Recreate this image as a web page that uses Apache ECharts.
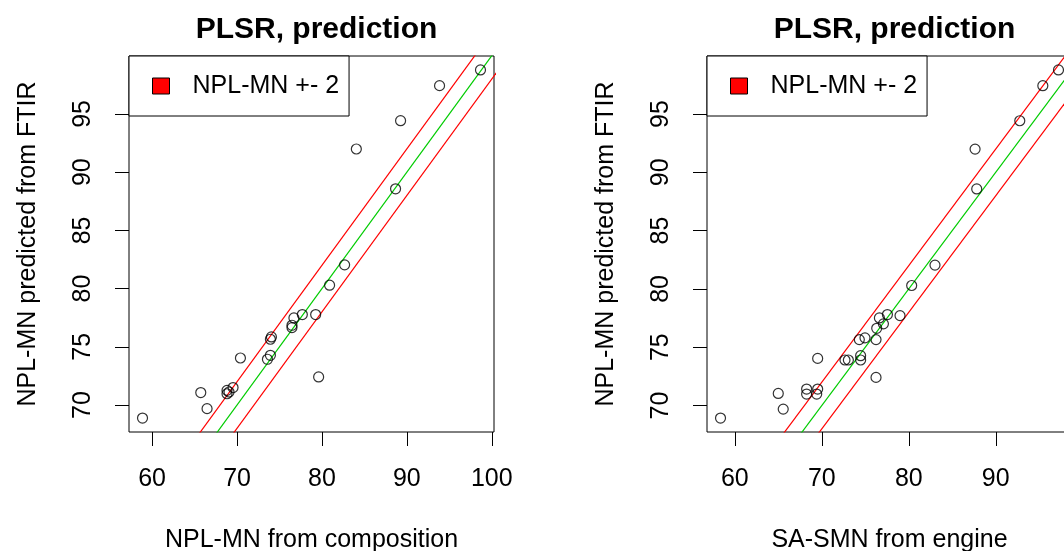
<!DOCTYPE html>
<html>
<head>
<meta charset="utf-8">
<script src="https://cdn.jsdelivr.net/npm/echarts@6/dist/echarts.min.js"></script>
<style>
  html, body { margin: 0; padding: 0; background: #fff; }
  #chart { width: 1064px; height: 551px; }
</style>
</head>
<body>
<div id="chart"></div>
<script>
// left panel: composition vs FTIR prediction
const compX = [98.67, 93.85, 89.26, 84.05, 88.67, 82.67, 80.9, 79.26, 77.69, 76.7, 76.47, 76.47, 74.05, 73.93, 73.93, 73.58, 70.4, 65.73, 66.47, 58.87, 69.53, 68.82, 68.82, 69.06, 79.61];
const compY = [98.78, 97.43, 94.42, 91.99, 88.57, 82.04, 80.29, 77.77, 77.77, 77.48, 76.85, 76.65, 75.85, 75.65, 74.27, 73.93, 74.04, 71.07, 69.69, 68.88, 71.5, 71.26, 70.97, 71.12, 72.41];
// right panel: engine vs FTIR prediction
const engX = [97.21, 95.41, 92.76, 87.62, 87.81, 83.01, 80.33, 78.99, 77.54, 76.62, 77.08, 76.31, 74.96, 74.31, 76.23, 74.46, 74.46, 72.66, 73.05, 69.52, 76.23, 64.99, 65.56, 58.35, 68.25, 68.25, 69.52, 69.41];
const engY = [98.78, 97.43, 94.42, 91.99, 88.57, 82.04, 80.29, 77.71, 77.8, 77.51, 77.0, 76.62, 75.8, 75.65, 75.65, 74.27, 73.9, 73.9, 73.9, 74.04, 72.41, 71.03, 69.69, 68.92, 71.41, 70.98, 71.41, 70.98];

const xTicks = [60, 70, 80, 90, 100];
const yTicks = [70, 75, 80, 85, 90, 95];
const band = 2;
const lineEnds = [40, 120];

const titles = ['PLSR, prediction', 'PLSR, prediction'];
const xNames = ['NPL-MN from composition', 'SA-SMN from engine'];
const yName = 'NPL-MN predicted from FTIR';
const bandName = 'NPL-MN +- 2';

const FONT = '"Liberation Sans", Arial, sans-serif';

// R style axis range: data range plus 4% each side
function rng(a) {
  const lo = Math.min(...a), hi = Math.max(...a);
  const r = hi - lo;
  return [lo - 0.04 * r, hi + 0.04 * r];
}
const pts = (xs, ys) => xs.map((v, i) => [v, ys[i]]);
const refLine = (off) => lineEnds.map(v => [v, v + off]);

const grids = [
  { left: 129, top: 56, width: 365, height: 376 },
  { left: 707, top: 56, width: 365, height: 376 }
];
const panels = [[compX, compY], [engX, engY]];

const xAxes = [], yAxes = [], series = [], titleArr = [], legends = [];
panels.forEach((p, i) => {
  const xr = rng(p[0]), yr = rng(p[1]);
  const g = grids[i];
  xAxes.push({
    type: 'value', gridIndex: i, min: xr[0], max: xr[1],
    name: xNames[i], nameLocation: 'middle', nameGap: 96,
    nameTextStyle: { fontFamily: FONT, fontSize: 25, color: '#000' },
    axisLine: { show: false },
    axisTick: { show: true, length: 14, customValues: xTicks, lineStyle: { color: '#000' } },
    axisLabel: { customValues: xTicks, margin: 35, fontFamily: FONT, fontSize: 25, color: '#000' },
    splitLine: { show: false }
  });
  yAxes.push({
    type: 'value', gridIndex: i, min: yr[0], max: yr[1],
    name: yName, nameLocation: 'middle', nameGap: 88, nameRotate: 90,
    nameTextStyle: { fontFamily: FONT, fontSize: 25, color: '#000' },
    axisLine: { show: false },
    axisTick: { show: true, length: 14, customValues: yTicks, lineStyle: { color: '#000' } },
    axisLabel: { customValues: yTicks, rotate: 90, margin: 33, fontFamily: FONT, fontSize: 25, color: '#000' },
    splitLine: { show: false }
  });
  titleArr.push({
    text: titles[i], left: g.left + g.width / 2, textAlign: 'center', top: 10,
    textStyle: { fontFamily: FONT, fontSize: 30, fontWeight: 'bold', color: '#000' }
  });
  legends.push({
    data: [bandName], left: g.left, top: g.top, orient: 'vertical',
    selectedMode: false, icon: 'rect', itemWidth: 17, itemHeight: 16,
    padding: [16, 10, 16, 23], borderColor: '#000', borderWidth: 1, backgroundColor: '#fff',
    itemStyle: { color: '#ff0000', borderColor: '#000', borderWidth: 1 },
    textStyle: { fontFamily: FONT, fontSize: 25, color: '#000', padding: [0, 0, 0, 18], lineHeight: 28 }
  });
  const common = { xAxisIndex: i, yAxisIndex: i, type: 'line', showSymbol: false, silent: true, clip: true, z: 2 };
  series.push(Object.assign({}, common, { name: 'y = x', data: refLine(0), lineStyle: { color: '#00cc00', width: 1.2 } }));
  series.push(Object.assign({}, common, { name: bandName, data: refLine(band), color: '#ff0000', lineStyle: { color: '#ff0000', width: 1.2 } }));
  series.push(Object.assign({}, common, { name: bandName, data: refLine(-band), color: '#ff0000', lineStyle: { color: '#ff0000', width: 1.2 } }));
  series.push({
    type: 'scatter', xAxisIndex: i, yAxisIndex: i, data: pts(p[0], p[1]),
    symbol: 'circle', symbolSize: 10, silent: true, z: 3,
    itemStyle: { color: 'rgba(0,0,0,0)', borderColor: '#000', borderWidth: 1.2 }
  });
});

const chart = echarts.init(document.getElementById('chart'));
chart.setOption({
  animation: false,
  backgroundColor: '#fff',
  title: titleArr,
  legend: legends,
  grid: grids.map(g => Object.assign({
    show: true, borderColor: '#000', borderWidth: 1, backgroundColor: 'transparent',
    containLabel: false, outerBoundsMode: 'none'
  }, g)),
  xAxis: xAxes,
  yAxis: yAxes,
  series: series
});
</script>
</body>
</html>
